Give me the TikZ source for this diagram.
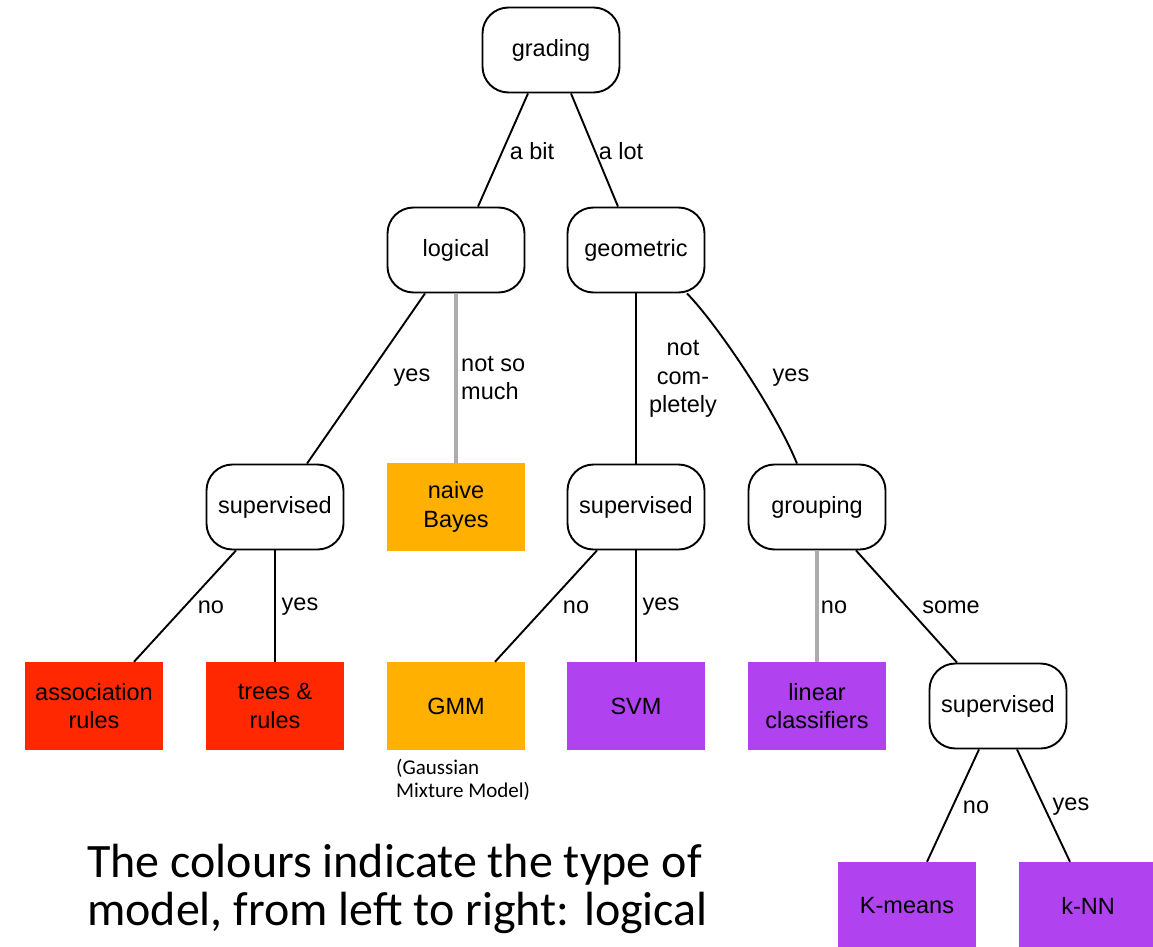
\documentclass[tikz,border=0pt]{standalone}
\usepackage{fontspec}
\setmainfont{Liberation Sans}
\newfontfamily\calibri{Carlito}
\definecolor{cRed}{RGB}{255,40,0}
\definecolor{cOrange}{RGB}{255,176,0}
\definecolor{cPurple}{RGB}{176,66,240}
\definecolor{cGray}{RGB}{172,172,172}
\tikzset{
  txt/.style={font=\fontsize{23.5}{28.5}\selectfont, inner sep=0pt},
  decision/.style={txt, draw=black, line width=1.9pt, fill=white, rounded corners=26pt,
    minimum width=137pt, minimum height=85pt, align=center},
  leaf/.style={txt, rectangle, minimum width=138pt, minimum height=88pt, align=center},
  redleaf/.style={leaf, fill=cRed},
  orangeleaf/.style={leaf, fill=cOrange},
  purpleleaf/.style={leaf, fill=cPurple},
  edge/.style={line width=1.9pt, black},
  grayedge/.style={line width=3.4pt, cGray},
  lbl/.style={txt, align=center},
  capnote/.style={font=\calibri\fontsize{21}{23}\selectfont, anchor=base west, inner sep=0pt},
  caption/.style={font=\calibri\fontsize{48}{48}\selectfont, anchor=base west, inner sep=0pt},
}
\begin{document}
\begin{tikzpicture}[x=1pt, y=-1pt]
\useasboundingbox (0,0) rectangle (1153,947);
\clip (0,0) rectangle (1153,947);
\fill[white] (0,0) rectangle (1153,947);

% decision nodes
\node[decision] (grading) at (551,50) {grading};
\node[decision] (logical) at (456,250) {logical};
\node[decision] (geometric) at (636,250) {geometric};
\node[decision] (sup1) at (275,507) {supervised};
\node[decision] (sup2) at (636,507) {supervised};
\node[decision] (grouping) at (817,507) {grouping};
\node[decision] (sup3) at (998,706) {supervised};

% leaves
\node[orangeleaf] (naive) at (456,507) {naive\\Bayes};
\node[redleaf] (assoc) at (94,706) {association\\rules};
\node[redleaf] (trees) at (275,706) {trees \&\\rules};
\node[orangeleaf] (gmm) at (456,706) {GMM};
\node[purpleleaf] (svm) at (636,706) {SVM};
\node[purpleleaf] (linear) at (817,706) {linear\\classifiers};
\node[purpleleaf] (kmeans) at (907,906) {K-means};
\node[purpleleaf] (knn) at (1088,906) {k-NN};

% connectors
\draw[edge] ([xshift=-23pt]grading.south) -- ([xshift=22pt]logical.north);
\draw[edge] ([xshift=20pt]grading.south) -- ([xshift=-18pt]geometric.north);
\draw[edge] ([xshift=-31pt]logical.south) -- ([xshift=32pt]sup1.north);
\draw[grayedge] (logical.south) -- (naive.north);
\draw[edge] (geometric.south) -- (sup2.north);
\draw[edge] ([xshift=51pt]geometric.south) .. controls (716,323) and (775,410) .. ([xshift=-20pt]grouping.north);
\draw[edge] ([xshift=-39pt]sup1.south) -- ([xshift=40pt]assoc.north);
\draw[edge] (sup1.south) -- (trees.north);
\draw[edge] ([xshift=-39pt]sup2.south) -- ([xshift=39pt]gmm.north);
\draw[edge] (sup2.south) -- (svm.north);
\draw[grayedge] (grouping.south) -- (linear.north);
\draw[edge] ([xshift=39pt]grouping.south) -- ([xshift=-41pt]sup3.north);
\draw[edge] ([xshift=-19pt]sup3.south) -- ([xshift=20pt]kmeans.north);
\draw[edge] ([xshift=19pt]sup3.south) -- ([xshift=-18pt]knn.north);

% edge labels
\node[lbl] (l1) at (532,151) {a bit};
\node[lbl] (l2) at (621,151) {a lot};
\node[lbl] (l3) at (412,378) {yes};
\node[lbl, align=left, anchor=west] (l4) at (461,378) {not so\\much};
\node[lbl] (l5) at (683,379) {not\\com-\\pletely};
\node[lbl] (l6) at (791,378) {yes};
\node[lbl] (l7) at (211,607) {no};
\node[lbl] (l8) at (300,607) {yes};
\node[lbl] (l9) at (576,607) {no};
\node[lbl] (l10) at (661,607) {yes};
\node[lbl] (l11) at (834,607) {no};
\node[lbl] (l12) at (951,607) {some};
\node[lbl] (l13) at (976,807) {no};
\node[lbl] (l14) at (1071,807) {yes};

% notes
\node[capnote] (g1) at (396,774) {(Gaussian};
\node[capnote] (g2) at (396,797) {Mixture Model)};
\node[caption] (c1) at (87,877) {The colours indicate the type of};
\node[caption] (c2) at (87,925) {model, from left to right: logical};
\end{tikzpicture}
\end{document}
